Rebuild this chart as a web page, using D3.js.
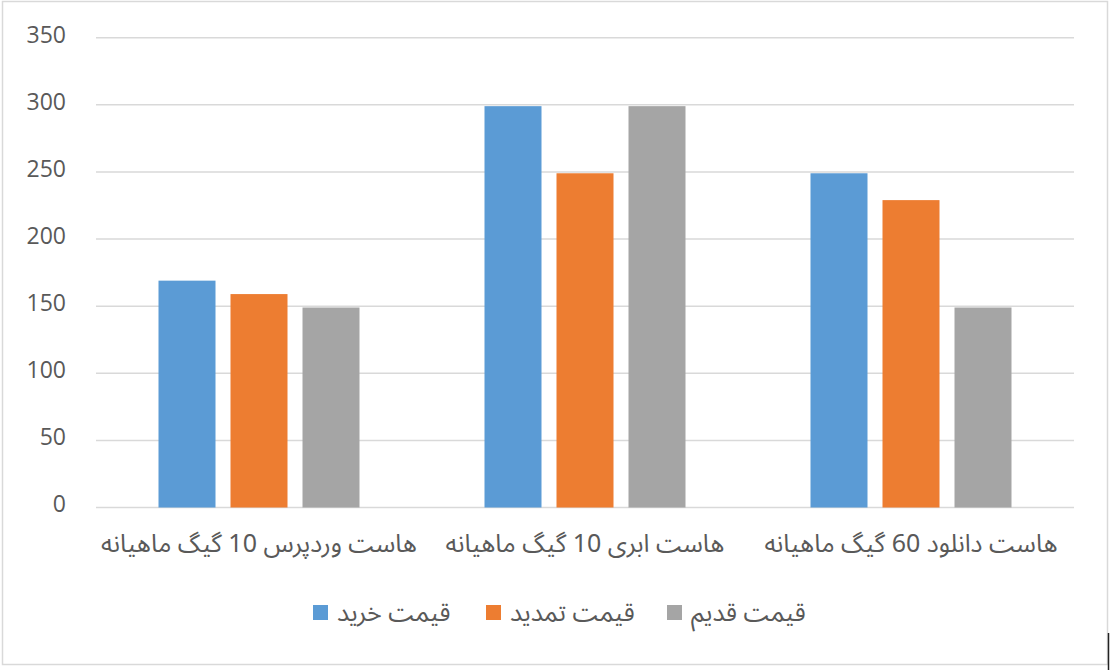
<!DOCTYPE html>
<html><head><meta charset="utf-8">
<script src="https://cdn.jsdelivr.net/npm/d3@7"></script>
<style>
html,body{margin:0;padding:0;background:#fff;}
svg{display:block;}
text{font-family:"Noto Sans Arabic","Vazirmatn","DejaVu Sans",sans-serif;fill:#595959;}
</style></head>
<body>
<script>
const categories = ["هاست وردپرس 10 گیگ ماهیانه", "هاست ابری 10 گیگ ماهیانه", "هاست دانلود 60 گیگ ماهیانه"];
const seriesNames = ["قیمت خرید", "قیمت تمدید", "قیمت قدیم"];
const buyPrice = [169, 299, 249];
const renewPrice = [159, 249, 229];
const oldPrice = [149, 299, 149];
const yTicks = [0, 50, 100, 150, 200, 250, 300, 350];
const colors = ["#5B9BD5", "#ED7D31", "#A5A5A5"];
const seriesValues = [buyPrice, renewPrice, oldPrice];

const W = 1113, H = 670;
const svg = d3.select("body").append("svg").attr("width", W).attr("height", H);

// chart border
svg.append("rect").attr("x", 2.5).attr("y", 1.5).attr("width", 1105).attr("height", 663)
  .attr("fill", "#fff").attr("stroke", "#d9d9d9").attr("stroke-width", 1.5);
svg.append("line").attr("x1", 1108.5).attr("x2", 1108.5).attr("y1", 633).attr("y2", 670)
  .attr("stroke", "#222").attr("stroke-width", 1.5);

const plot = {left: 96, right: 1074, top: 37.7, bottom: 507.5};

const y = d3.scaleLinear().domain([0, 350]).range([plot.bottom, plot.top]);
const x0 = d3.scaleBand().domain(categories).range([plot.left, plot.right]).padding(0);
const groupW = 201;
const x1 = d3.scaleBand().domain(seriesNames)
  .range([(x0.bandwidth() - groupW) / 2, (x0.bandwidth() + groupW) / 2])
  .paddingInner(15 / 72).paddingOuter(0);

// gridlines
svg.append("g").selectAll("line").data(yTicks).join("line")
  .attr("x1", plot.left).attr("x2", plot.right)
  .attr("y1", d => y(d)).attr("y2", d => y(d))
  .attr("stroke", "#d9d9d9").attr("stroke-width", 1.5);

// y axis labels
const yAxis = d3.axisLeft(y).tickValues(yTicks).tickSize(0).tickPadding(0);
const gy = svg.append("g").attr("transform", "translate(66,-3)").call(yAxis);
gy.select(".domain").remove();
gy.selectAll("text").attr("font-size", 23).attr("fill", "#595959")
  .style("font-family", "'Open Sans','DejaVu Sans',sans-serif");

// bars
const rows = categories.map((c, i) => ({cat: c, vals: seriesNames.map((s, j) => ({s, v: seriesValues[j][i], j}))}));
const groups = svg.append("g").selectAll("g").data(rows).join("g")
  .attr("transform", d => `translate(${x0(d.cat)},0)`);
groups.selectAll("rect").data(d => d.vals).join("rect")
  .attr("x", d => x1(d.s)).attr("width", x1.bandwidth())
  .attr("y", d => y(d.v)).attr("height", d => y(0) - y(d.v))
  .attr("fill", d => colors[d.j]);

// category labels
const xAxis = d3.axisBottom(x0).tickSize(0).tickPadding(0);
const gx = svg.append("g").attr("transform", `translate(0,${plot.bottom})`).call(xAxis);
gx.select(".domain").remove();
gx.selectAll("text").attr("font-size", 25).attr("fill", "#595959")
  .attr("y", 0).attr("dy", 0).attr("transform", "translate(0,44)")
  .attr("direction", "rtl").attr("text-anchor", "middle");

// legend
const legendX = [313, 486, 667];
const leg = svg.append("g").selectAll("g").data(seriesNames).join("g")
  .attr("transform", (d, i) => `translate(${legendX[i]},605)`);
leg.append("rect").attr("width", 15).attr("height", 15).attr("fill", (d, i) => colors[i]);
leg.append("text").attr("x", 24).attr("y", 7.5).attr("dy", "0.35em")
  .attr("font-size", 25).attr("fill", "#595959").text(d => d);
</script>
</body></html>
